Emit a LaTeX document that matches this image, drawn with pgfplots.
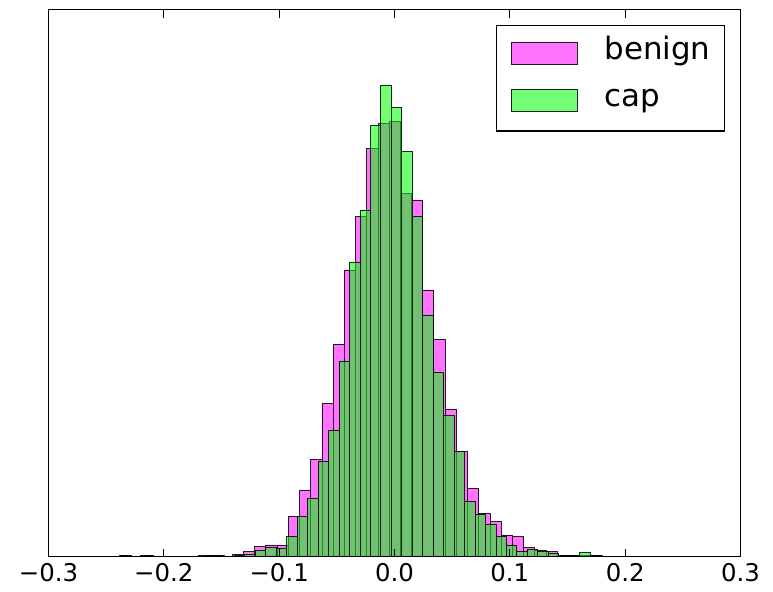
\documentclass[border=0pt]{standalone}
\usepackage{pgfplots}
\pgfplotsset{compat=1.18}
\usepackage{fontspec}
\setmainfont{DejaVu Sans}

% histogram bins: left edge, height (last row closes the interval)
\pgfplotstableread{
x y
-0.2377 1
-0.2280 0
-0.2183 1
-0.2086 0
-0.1989 0
-0.1891 0
-0.1794 0
-0.1697 1
-0.1600 1
-0.1503 0.5
-0.1406 2
-0.1309 5
-0.1212 10
-0.1115 11.7
-0.1017 11.7
-0.0920 40
-0.0823 66.7
-0.0726 97.3
-0.0629 153.3
-0.0532 212.3
-0.0435 286.7
-0.0338 340
-0.0240 408.3
-0.0143 433
-0.0046 435
0.0051 363.3
0.0148 356.7
0.0245 266.7
0.0342 217.3
0.0440 147.3
0.0537 105
0.0634 68.3
0.0731 43.3
0.0828 35
0.0925 21.7
0.1022 20
0.1119 9.3
0.1217 6.7
0.1314 5
0.1411 1.5
0.1508 1
0.1605 1.5
0.1702 1
0.1799 0
}\benign

\pgfplotstableread{
x y
-0.2385 1.2
-0.2294 0
-0.2204 1.2
-0.2113 0
-0.2022 0
-0.1931 0
-0.1841 0
-0.1750 0
-0.1659 1
-0.1569 1
-0.1478 0
-0.1387 1.5
-0.1297 2
-0.1206 6.7
-0.1115 9
-0.1024 8.3
-0.0934 20
-0.0843 40
-0.0752 58.3
-0.0662 95
-0.0571 126.7
-0.0480 195.7
-0.0390 294
-0.0299 346.7
-0.0208 431.7
-0.0118 471.7
-0.0027 449.3
0.0064 405
0.0154 340
0.0245 241.7
0.0336 184.3
0.0427 141.7
0.0517 105
0.0608 55
0.0699 42.3
0.0789 32.7
0.0880 20
0.0971 11.7
0.1061 5
0.1152 7.3
0.1243 5
0.1334 3.3
0.1424 1
0.1515 1
0.1606 4
0.1696 1
0.1787 0.5
0.1878 0
}\cap

\begin{document}
\begin{tikzpicture}
\path[use as bounding box] (-48.5bp,-35.3bp) rectangle (724.5bp,556.7bp);
\begin{axis}[
  scale only axis,
  width=692bp, height=547bp,
  xmin=-0.3, xmax=0.3, ymin=0, ymax=547,
  axis on top,
  axis line style={line width=1.2bp},
  xtick={-0.3,-0.2,-0.1,0,0.1,0.2,0.3},
  xticklabels={−0.3,−0.2,−0.1,0.0,0.1,0.2,0.3},
  ytick=\empty,
  tick align=inside,
  major tick length=8bp,
  every tick/.style={black, line width=0.8bp},
  xticklabel style={font=\fontsize{24.5}{29}\selectfont, yshift=-3bp},
  /pgf/number format/assume math mode=true,
  legend style={at={(1,1)}, anchor=north east, xshift=-15.5bp, yshift=-15.5bp,
    draw=black, line width=1.2bp, font=\fontsize{31}{36}\selectfont,
    inner xsep=14bp, inner ysep=10bp, row sep=14.4bp,
    cells={anchor=base west}, nodes={inner sep=0bp}},
  legend image code/.code={\draw[#1,/tikz/.cd,line width=0.8bp] (0bp,-5.4bp) rectangle (66bp,17.3bp);
    \path (93bp,-14.4bp);},
]
\addplot[ybar interval, fill={rgb,1:red,1;green,0;blue,1}, fill opacity=0.55,
  draw=black, draw opacity=0.85, line width=0.9bp] table[x=x,y=y] {\benign};
\addlegendentry{benign}
\addplot[ybar interval, fill={rgb,1:red,0;green,1;blue,0}, fill opacity=0.55,
  draw=black, draw opacity=0.85, line width=0.9bp] table[x=x,y=y] {\cap};
\addlegendentry{cap}
\end{axis}
\end{tikzpicture}
\end{document}
